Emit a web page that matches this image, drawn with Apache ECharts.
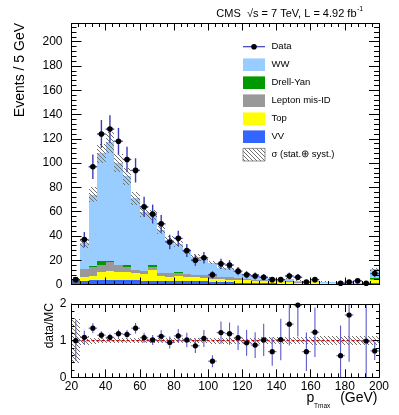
<!DOCTYPE html>
<html>
<head>
<meta charset="utf-8">
<script src="https://cdn.jsdelivr.net/npm/echarts@6/dist/echarts.min.js"></script>
<style>
  html, body { margin: 0; padding: 0; background: #fff; }
  #chart { width: 399px; height: 415px; }
</style>
</head>
<body>
<div id="chart"></div>
<script>
// bins of 5 GeV, lower edges
const binLow = [20, 25, 30, 35, 40, 45, 50, 55, 60, 65, 70, 75, 80, 85, 90, 95, 100, 105,
  110, 115, 120, 125, 130, 135, 140, 145, 150, 155, 160, 165, 170, 175, 180, 185, 190, 195]
const binWidth = 5

// observed events per bin and their error
const dataCounts = [4, 37, 97, 124, 128, 118, 103, 94, 64, 58, 50, 35, 38, 28, 20, 22, 8, 17,
  16, 11, 8, 7, 6, 4, 4, 7, 6, 2, 4, 0, 0, 1, 2, 3, 1, 9]
const dataErr = [2.2, 6.2, 10, 11.5, 11.5, 11, 10.5, 10, 8.2, 7.8, 7.2, 6, 6.3, 5.4, 4.6, 4.8, 3, 4.2,
  4.1, 3.4, 3, 2.8, 2.6, 2.2, 2.2, 2.8, 2.6, 1.5, 2.2, 0, 0, 1.4, 1.5, 1.8, 1.3, 3.1]

// stacked backgrounds, bottom to top
const vvBkg = [3.5, 3, 4, 4, 4, 3.5, 3.5, 3.5, 3, 3, 3, 3, 3, 2.5, 2.5, 2.5, 2, 2,
  2, 1.5, 1.5, 1.2, 1, 1, 0.8, 0.8, 0.5, 0.5, 0.5, 0.4, 0.4, 0.3, 0.3, 0.3, 0.2, 1]
const topBkg = [0, 3, 3, 6, 7, 7, 7, 6, 5.5, 9, 4, 3.5, 4, 4, 3.5, 3, 2.8, 2.3,
  2, 2, 2, 1.5, 1.5, 1.5, 1.2, 1.5, 1, 1, 1.2, 0.6, 0.5, 0.5, 0.3, 0.3, 0.2, 3]
const misIdBkg = [0, 6.8, 7.2, 5.7, 7.8, 5.5, 3.6, 2.4, 2.3, 2.7, 2.8, 2.7, 2.5, 2.3, 2, 2.4, 2.8, 2.2,
  2, 1.5, 1, 1, 0.8, 0.5, 0.4, 0.5, 0.3, 0.3, 0.3, 0.3, 0.2, 0.2, 0.1, 0.1, 0.1, 0.3]
const dyBkg = [0, 0, 1, 4, 0.3, 0, 1.6, 0, 0, 1.5, 0, 0, 0.8, 0, 0, 0, 0, 0,
  0, 0, 0, 0, 0, 0, 0, 0, 0, 0, 0, 0, 0, 0, 0, 0, 0, 1]
const wwSig = [0.2, 21.5, 58.8, 88.3, 97.9, 84, 73.3, 59.1, 49.2, 40.8, 34.8, 27.8, 23.3, 18.7, 15, 12.9, 10.4, 7.5,
  7.4, 5.2, 4, 4.3, 2.7, 2.5, 1.4, 2, 1.3, 1.1, 1.2, 1.1, 0.9, 0.7, 0.5, 0.5, 0.5, 7.2]

// relative MC uncertainty (stat + syst)
const mcRelErr = [0.6, 0.12, 0.08, 0.075, 0.075, 0.075, 0.075, 0.075, 0.075, 0.075, 0.075, 0.075, 0.075, 0.075, 0.075, 0.075, 0.08, 0.08,
  0.08, 0.08, 0.08, 0.08, 0.09, 0.1, 0.1, 0.1, 0.1, 0.1, 0.11, 0.12, 0.12, 0.12, 0.12, 0.12, 0.12, 0.12]

// data / MC
const ratio = [1.0, 1.09, 1.34, 1.15, 1.09, 1.19, 1.17, 1.34, 1.08, 1.02, 1.12, 0.95, 1.13, 1.02, 0.86, 1.06, 0.44, 1.22,
  1.19, 1.08, 0.94, 0.88, 1.02, 0.70, 1.03, 1.45, 1.97, 0.70, 1.23, null, null, 0.59, 1.70, null, 0.99, 0.72]

const stackNames = ['VV', 'Top', 'Lepton mis-ID', 'Drell-Yan', 'WW']
const stackValues = [vvBkg, topBkg, misIdBkg, dyBkg, wwSig]
const stackColors = ['#3366ff', '#ffff00', '#999999', '#009900', '#99ccff']

const FONT = 'Liberation Sans, Arial, Helvetica, sans-serif'
const errColor = '#3c3cb4'

const makeHatch = () => {
  const c = document.createElement('canvas')
  c.width = 4
  c.height = 4
  const g = c.getContext('2d')
  g.strokeStyle = '#6e6e6e'
  g.lineWidth = 1
  g.beginPath()
  g.moveTo(-1, -1); g.lineTo(5, 5)
  g.moveTo(-1, 3); g.lineTo(1, 5)
  g.moveTo(3, -1); g.lineTo(5, 1)
  g.stroke()
  return c
}
const hatchFill = { image: makeHatch(), repeat: 'repeat' }

const renderBin = (fill) => (params, api) => {
  const lo = api.coord([api.value(0), api.value(2)])
  const hi = api.coord([api.value(1), api.value(3)])
  const x0 = Math.round(lo[0]), x1 = Math.round(hi[0])
  const y0 = Math.round(lo[1]), y1 = Math.round(hi[1])
  if (y0 - y1 <= 0) return null
  return {
    type: 'rect',
    shape: { x: x0, y: y1, width: x1 - x0, height: y0 - y1 },
    style: { fill: fill || api.visual('color') }
  }
}

const renderPoint = (color, width, r) => (params, api) => {
  const xc = api.value(0), v = api.value(1), e = api.value(2)
  const cs = params.coordSys
  const c = api.coord([xc, v])
  const left = api.coord([xc - binWidth / 2, v])[0]
  const right = api.coord([xc + binWidth / 2, v])[0]
  const top = Math.max(api.coord([xc, v + e])[1], cs.y)
  const bottom = Math.min(api.coord([xc, v - e])[1], cs.y + cs.height)
  const st = { stroke: color, lineWidth: width }
  return {
    type: 'group',
    children: [
      { type: 'line', shape: { x1: left, y1: c[1], x2: right, y2: c[1] }, style: st },
      { type: 'line', shape: { x1: c[0], y1: top, x2: c[0], y2: bottom }, style: st },
      { type: 'circle', shape: { cx: c[0], cy: c[1], r: r }, style: { fill: '#000' } }
    ]
  }
}

// stacked series
const series = []
const base = binLow.map(() => 0)
stackValues.forEach((vals, k) => {
  const items = binLow.map((lo, i) => [lo, lo + binWidth, base[i], base[i] + vals[i]])
  vals.forEach((v, i) => { base[i] += v })
  series.push({
    name: stackNames[k],
    type: 'custom',
    xAxisIndex: 0,
    yAxisIndex: 0,
    itemStyle: { color: stackColors[k] },
    renderItem: renderBin(),
    data: items,
    silent: true,
    z: 2
  })
})
const mcTotal = base.slice()

series.push({
  name: 'unc',
  type: 'custom',
  xAxisIndex: 0,
  yAxisIndex: 0,
  renderItem: renderBin(hatchFill),
  data: binLow.map((lo, i) => [lo, lo + binWidth, mcTotal[i] * (1 - mcRelErr[i]), mcTotal[i] * (1 + mcRelErr[i])]),
  silent: true,
  z: 3
})

series.push({
  name: 'Data',
  type: 'custom',
  xAxisIndex: 0,
  yAxisIndex: 0,
  renderItem: renderPoint(errColor, 1.4, 2.8),
  data: binLow.map((lo, i) => [lo + binWidth / 2, dataCounts[i], dataErr[i]]).filter((d) => d[1] > 0),
  silent: true,
  z: 5
})

// ratio panel
series.push({
  name: 'ratioUnc',
  type: 'custom',
  xAxisIndex: 2,
  yAxisIndex: 2,
  renderItem: renderBin(hatchFill),
  data: binLow.map((lo, i) => [lo, lo + binWidth, 1 - mcRelErr[i], 1 + mcRelErr[i]]),
  silent: true,
  z: 3
})
series.push({
  name: 'one',
  type: 'line',
  xAxisIndex: 2,
  yAxisIndex: 2,
  data: [[20, 1], [200, 1]],
  symbol: 'none',
  lineStyle: { color: '#cc0000', width: 1.3, type: [3, 2] },
  silent: true,
  z: 4
})
series.push({
  name: 'ratio',
  type: 'custom',
  xAxisIndex: 2,
  yAxisIndex: 2,
  renderItem: renderPoint('#5a5acc', 1.1, 2.6),
  data: binLow.map((lo, i) => [lo + binWidth / 2, ratio[i], ratio[i] == null ? 0 : ratio[i] * dataErr[i] / dataCounts[i]])
    .filter((d) => d[1] != null),
  silent: true,
  z: 5
})

const frameLine = { show: true, onZero: false, lineStyle: { color: '#000', width: 1 } }
const tickStyle = { color: '#000', width: 1 }
const labelStyle = { color: '#000', fontSize: 12, fontFamily: FONT }

const xAxisOf = (grid, pos, label, major, minor, split) => ({
  type: 'value',
  gridIndex: grid,
  position: pos,
  min: 20,
  max: 200,
  interval: 20,
  z: 10,
  axisLine: frameLine,
  splitLine: { show: false },
  axisTick: { show: true, inside: true, length: major, lineStyle: tickStyle },
  minorTick: { show: true, splitNumber: split, length: minor, lineStyle: tickStyle },
  axisLabel: label ? { show: true, margin: 3, ...labelStyle } : { show: false }
})

const yAxisOf = (grid, pos, label, max, interval, major, minor, margin) => ({
  type: 'value',
  gridIndex: grid,
  position: pos,
  min: 0,
  max: max,
  interval: interval,
  z: 10,
  axisLine: frameLine,
  splitLine: { show: false },
  axisTick: { show: true, inside: true, length: major, lineStyle: tickStyle },
  minorTick: { show: true, splitNumber: 5, length: minor, lineStyle: tickStyle },
  axisLabel: label ? { show: true, margin: margin, showMaxLabel: max === 2, ...labelStyle } : { show: false }
})

const legendRows = [
  { name: 'WW', color: '#99ccff' },
  { name: 'Drell-Yan', color: '#009900' },
  { name: 'Lepton mis-ID', color: '#999999' },
  { name: 'Top', color: '#ffff00' },
  { name: 'VV', color: '#3366ff' }
]
const legendX = 243
const legendTextX = 271.5
const legendTop = 46.7
const legendStep = 18
const legendFont = 9.5

const txt = (x, y, text, size, align, extra) => ({
  type: 'text', x: x, y: y, ...(extra || {}),
  style: { text: text, font: `${size}px ${FONT}`, fill: '#000', align: align, verticalAlign: 'middle' }
})

const graphics = [
  // legend: data
  { type: 'line', shape: { x1: legendX, y1: legendTop, x2: legendX + 22, y2: legendTop }, style: { stroke: errColor, lineWidth: 1.2 } },
  { type: 'circle', shape: { cx: legendX + 11, cy: legendTop, r: 2.8 }, style: { fill: '#000' } },
  txt(legendTextX, legendTop, 'Data', legendFont, 'left')
]
legendRows.forEach((row, k) => {
  const cy = legendTop + legendStep * (k + 1)
  graphics.push({ type: 'rect', shape: { x: legendX, y: cy - 6.3, width: 22, height: 12.6 }, style: { fill: row.color } })
  graphics.push(txt(legendTextX, cy, row.name, legendFont, 'left'))
})
const uncY = legendTop + legendStep * 6
graphics.push({ type: 'rect', shape: { x: legendX, y: uncY - 6.3, width: 22, height: 12.6 }, style: { fill: hatchFill, stroke: '#777', lineWidth: 0.8 } })
graphics.push(txt(legendTextX, uncY, 'σ (stat.⊕ syst.)', legendFont, 'left'))

// header
graphics.push(txt(356.5, 14, 'CMS  √s = 7 TeV, L = 4.92 fb', 11, 'right'))
graphics.push(txt(357, 9.5, '-1', 7, 'left'))

// axis titles
graphics.push(txt(20, 23, 'Events / 5 GeV', 14, 'right', { rotation: Math.PI / 2 }))
graphics.push(txt(49.5, 303, 'data/MC', 12, 'right', { rotation: Math.PI / 2 }))
graphics.push(txt(306.5, 398, 'p', 14, 'left'))
graphics.push(txt(314, 406, 'Tmax', 6.5, 'left'))
graphics.push(txt(377.5, 398, '(GeV)', 14, 'right'))

const option = {
  animation: false,
  backgroundColor: '#fff',
  grid: [
    { left: 71.5, top: 23.5, width: 307.5, height: 261, containLabel: false, outerBoundsMode: 'none' },
    { left: 71.5, top: 304, width: 307.5, height: 73.3, containLabel: false, outerBoundsMode: 'none' }
  ],
  xAxis: [
    xAxisOf(0, 'bottom', false, 7, 3.5, 4),
    xAxisOf(0, 'top', false, 7, 3.5, 5),
    xAxisOf(1, 'bottom', true, 8, 4, 5),
    xAxisOf(1, 'top', false, 8, 4, 5)
  ],
  yAxis: [
    yAxisOf(0, 'left', true, 215, 20, 10, 5, 9),
    yAxisOf(0, 'right', false, 215, 20, 10, 5, 9),
    yAxisOf(1, 'left', true, 2, 1, 6, 3, 5),
    yAxisOf(1, 'right', false, 2, 1, 6, 3, 5)
  ],
  graphic: graphics,
  series: series
}

const chart = echarts.init(document.getElementById('chart'), null, { renderer: 'canvas' })
chart.setOption(option)
</script>
</body>
</html>
